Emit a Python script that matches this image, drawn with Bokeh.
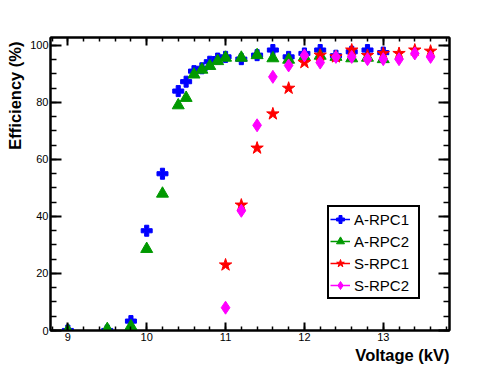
from bokeh.plotting import figure
from bokeh.models import (Range1d, LinearAxis, SingleIntervalTicker, Legend,
                          LegendItem, Title)
from bokeh.embed import file_html
from bokeh.resources import INLINE

# ---- data ----
a1_x = [9.0, 9.5, 9.8, 10.0, 10.2, 10.4, 10.5, 10.6, 10.7, 10.8, 10.9, 11.0,
        11.2, 11.4, 11.6, 11.8, 12.0, 12.2, 12.4, 12.6, 12.8, 13.0]
a1_y = [0, 0, 3.3, 35, 55, 84, 87.3, 91, 92, 94.3, 95.4, 96,
        95.2, 96.6, 98.4, 96, 97.2, 98.4, 96.4, 97.8, 98.4, 97.5]

a2_x = [9.0, 9.5, 9.8, 10.0, 10.2, 10.4, 10.5, 10.6, 10.7, 10.8, 10.9, 11.0,
        11.2, 11.4, 11.6, 11.8, 12.0, 12.2, 12.4, 12.6, 12.8, 13.0]
a2_y = [0, 0.5, 1.5, 28.6, 48, 79, 81.6, 89.8, 91.5, 92.8, 94.5, 95.7,
        95.7, 96.6, 95.5, 95, 96, 96.4, 96, 95.5, 95.7, 95.2]

s1_x = [11.0, 11.2, 11.4, 11.6, 11.8, 12.0, 12.2, 12.4, 12.6, 12.8, 13.0,
        13.2, 13.4, 13.6]
s1_y = [23, 44, 64, 76, 85, 94, 96.6, 96, 98.4, 96.5, 97.2, 97.2, 98.4, 98]

s2_x = [11.0, 11.2, 11.4, 11.6, 11.8, 12.0, 12.2, 12.4, 12.6, 12.8, 13.0,
        13.2, 13.4, 13.6]
s2_y = [8, 42, 72, 89, 93, 96.5, 94, 96, 96, 95.2, 95.2, 95.2, 97.2, 96]

series_names = ["A-RPC1", "A-RPC2", "S-RPC1", "S-RPC2"]
x_title = "Voltage (kV)"
y_title = "Efficiency (%)"

FONT = "Liberation Sans"
X0, X1 = 8.78, 13.84
Y0, Y1 = 0, 102.8

p = figure(width=490, height=366, output_backend="svg", toolbar_location=None,
           x_range=Range1d(X0, X1), y_range=Range1d(Y0, Y1),
           x_axis_type=None, y_axis_type=None,
           min_border_left=50, min_border_right=41,
           min_border_top=37, min_border_bottom=36)
p.outline_line_color = "black"
p.outline_line_width = 2
p.background_fill_color = "white"
p.border_fill_color = "white"


def style_axis(ax, major_len, minor_len, labels):
    ax.axis_line_color = "black"
    ax.axis_line_width = 2
    ax.major_tick_in = major_len
    ax.major_tick_out = 0
    ax.minor_tick_in = minor_len
    ax.minor_tick_out = 0
    ax.major_tick_line_width = 2
    ax.minor_tick_line_width = 1.5
    ax.major_label_text_font = FONT
    ax.major_label_text_font_size = "11px"
    ax.major_label_text_color = "black"
    ax.major_label_standoff = 2
    if not labels:
        ax.major_label_text_alpha = 0
    return ax


xb = style_axis(LinearAxis(ticker=SingleIntervalTicker(interval=1, num_minor_ticks=5)), 8, 4, True)
xt = style_axis(LinearAxis(ticker=SingleIntervalTicker(interval=1, num_minor_ticks=5)), 8, 4, False)
yl = style_axis(LinearAxis(ticker=SingleIntervalTicker(interval=20, num_minor_ticks=4)), 11, 6, True)
yr = style_axis(LinearAxis(ticker=SingleIntervalTicker(interval=20, num_minor_ticks=4)), 11, 6, False)
p.add_layout(xb, "below")
p.add_layout(xt, "above")
p.add_layout(yl, "left")
p.add_layout(yr, "right")

styles = [
    (a1_x, a1_y, "plus", "#0000ff", 11),
    (a2_x, a2_y, "triangle", "#009900", 12),
    (s1_x, s1_y, "star", "#ff0000", 13),
    (s2_x, s2_y, "diamond", "#ff00ff", 13),
]

items = []
for (xs, ys, marker, color, size), name in zip(styles, series_names):
    # single-point line: draws nothing in the plot, gives the legend its line
    ln = p.line(x=xs[:1], y=ys[:1], line_color=color, line_width=1.5)
    sc = p.scatter(x=xs, y=ys, marker=marker, size=size,
                   fill_color=color, line_color=color, line_width=1)
    items.append(LegendItem(label=name, renderers=[ln, sc]))

legend = Legend(items=items, location=(277, 31))
legend.border_line_color = "black"
legend.border_line_alpha = 1
legend.border_line_width = 2
legend.background_fill_color = "white"
legend.background_fill_alpha = 1
legend.label_text_font = FONT
legend.label_text_font_size = "15px"
legend.label_text_color = "black"
legend.glyph_width = 20
legend.glyph_height = 22
legend.label_height = 22
legend.label_width = 63
legend.label_standoff = 4
legend.spacing = 0
legend.padding = 1
legend.margin = 0
p.add_layout(legend, "center")

p.add_layout(Title(text=x_title, align="right", standoff=0,
                   text_font=FONT, text_font_style="bold",
                   text_font_size="16.5px", text_color="black"), "below")
p.add_layout(Title(text=y_title, align="right", standoff=7, offset=4,
                   text_font=FONT, text_font_style="bold",
                   text_font_size="16.5px", text_color="black"), "left")

open("out.html", "w").write(file_html(p, INLINE))
